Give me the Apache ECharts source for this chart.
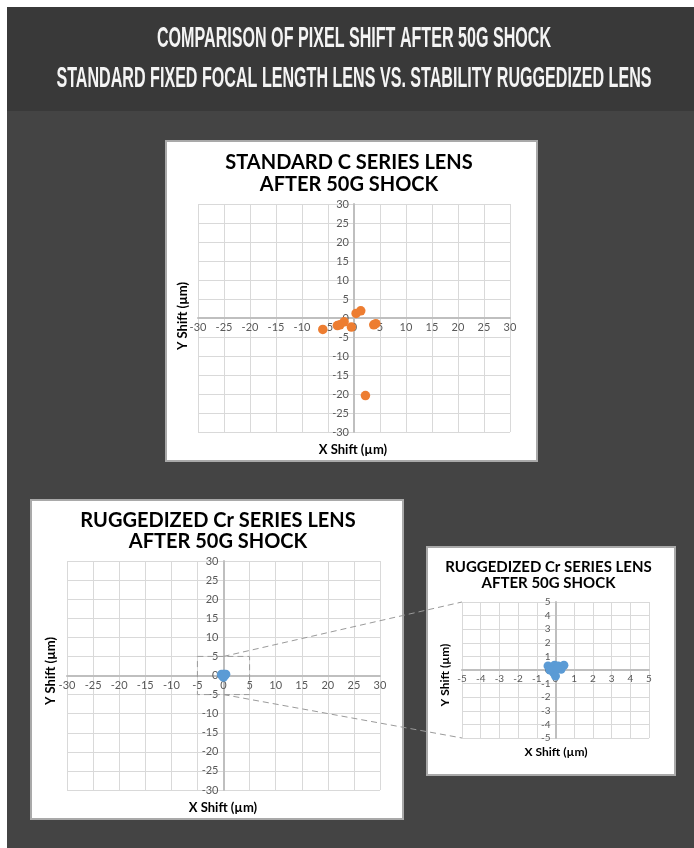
<!DOCTYPE html>
<html><head><meta charset="utf-8">
<script src="https://cdn.jsdelivr.net/npm/echarts@6/dist/echarts.min.js"></script>
<style>html,body{margin:0;padding:0;background:#fff}#chart{width:694px;height:848px}</style>
</head><body><div id="chart"></div>
<script>
// Pixel shift (µm) measured after a 50G shock
const standardShift = [[-6, -3], [-3.2, -2], [-2.7, -1.8], [-1.9, -1], [-0.5, -2.4], [0.4, 1.2], [1.3, 1.9], [3.8, -1.8], [4.2, -1.5], [2.2, -20.4]];
const ruggedShift = [[-0.4, 0.3], [-0.25, 0.15], [-0.05, 0.35], [0.15, 0.3], [0.45, 0.35], [0.3, 0.05], [-0.1, -0.2], [0, -0.45], [-0.3, 0], [0.1, 0.1]];

// Axis ranges
const fullRange = [-30, 30];
const fullStep = 5;
const zoomRange = [-5, 5];
const zoomStep = 1;

// Text
const headerLines = ['COMPARISON OF PIXEL SHIFT AFTER 50G SHOCK', 'STANDARD FIXED FOCAL LENGTH LENS VS. STABILITY RUGGEDIZED LENS'];
const standardTitle = ['STANDARD C SERIES LENS', 'AFTER 50G SHOCK'];
const ruggedTitle = ['RUGGEDIZED Cr SERIES LENS', 'AFTER 50G SHOCK'];
const xName = 'X Shift (µm)';
const yName = 'Y Shift (µm)';

const ORANGE = '#ED7D31';
const BLUE = '#5B9BD5';
const FONT = 'Lato, "Open Sans", sans-serif';
const HEADER_FONT = '"Liberation Sans Narrow", "Liberation Sans", sans-serif';

// Panel layout: white card, plot area, title and axis-name placement
const panels = [
  { box: [166, 141, 371, 320], grid: { left: 198, top: 204, width: 312, height: 228 },
    title: standardTitle, titleX: 349, titleY: [163, 185], titleSize: 20,
    xNameAt: [353, 449.5], yNameAt: [183, 316], nameSize: 13, labelSize: 11,
    range: fullRange, step: fullStep },
  { box: [31, 500, 372, 319], grid: { left: 67, top: 561, width: 313, height: 229 },
    title: ruggedTitle, titleX: 218, titleY: [520.5, 541.5], titleSize: 20,
    xNameAt: [223, 808], yNameAt: [51, 671], nameSize: 13, labelSize: 11,
    range: fullRange, step: fullStep },
  { box: [427, 547, 248, 228], grid: { left: 462, top: 602, width: 187, height: 136 },
    title: ruggedTitle, titleX: 548.5, titleY: [567, 583], titleSize: 15,
    xNameAt: [556, 752], yNameAt: [445, 675], nameSize: 12, labelSize: 10,
    range: zoomRange, step: zoomStep }
];

// Axes cross at the origin: shift each axis inward from its grid edge to the zero position
function makeAxis(p, i, isX) {
  const span = isX ? p.grid.height : p.grid.width;
  const zeroFrac = (0 - p.range[0]) / (p.range[1] - p.range[0]);
  return {
    type: 'value', gridIndex: i, min: p.range[0], max: p.range[1], interval: p.step,
    position: isX ? 'bottom' : 'left',
    offset: -span * zeroFrac,
    axisLine: { show: true, onZero: false, lineStyle: { color: '#bfbfbf', width: 2 } },
    axisTick: { show: false },
    splitLine: { show: true, lineStyle: { color: '#d9d9d9', width: 1 } },
    axisLabel: { color: '#595959', fontSize: p.labelSize, fontFamily: FONT,
      margin: isX ? 4 : 5, showMinLabel: true, showMaxLabel: true, hideOverlap: false }
  };
}

function textEl(text, x, y, size, weight, fill, family, extra) {
  return Object.assign({
    type: 'text', x: x, y: y, z: 50,
    style: { text: text, fill: fill, fontSize: size, fontWeight: weight, fontFamily: family,
      align: 'center', verticalAlign: 'middle', textAlign: 'center', textVerticalAlign: 'middle' }
  }, extra || {});
}

// Horizontal squeeze so the header face reads as a condensed type
const HEADER_SIZE = 30;
const HEADER_WEIGHT = 600;
const ctx = document.createElement('canvas').getContext('2d');
ctx.font = HEADER_WEIGHT + ' ' + HEADER_SIZE + 'px ' + HEADER_FONT;
const headerScale = 595 / ctx.measureText(headerLines[1]).width;

const graphics = [
  { type: 'rect', z: -10, shape: { x: 7, y: 7, width: 687, height: 104 }, style: { fill: '#393939' } },
  { type: 'rect', z: -10, shape: { x: 7, y: 111, width: 687, height: 737 }, style: { fill: '#444444' } },
  textEl(headerLines[0], 354, 38.5, HEADER_SIZE, HEADER_WEIGHT, '#f4f4f4', HEADER_FONT, { scaleX: headerScale }),
  textEl(headerLines[1], 354, 78.5, HEADER_SIZE, HEADER_WEIGHT, '#f4f4f4', HEADER_FONT, { scaleX: headerScale })
];

panels.forEach(function (p) {
  graphics.push({ type: 'rect', z: -5,
    shape: { x: p.box[0], y: p.box[1], width: p.box[2], height: p.box[3] },
    style: { fill: '#ffffff', stroke: '#a9a9a9', lineWidth: 2 } });
  graphics.push(textEl(p.title[0], p.titleX, p.titleY[0], p.titleSize, 'bold', '#000', FONT));
  graphics.push(textEl(p.title[1], p.titleX, p.titleY[1], p.titleSize, 'bold', '#000', FONT));
  graphics.push(textEl(xName, p.xNameAt[0], p.xNameAt[1], p.nameSize, 'bold', '#000', FONT));
  graphics.push(textEl(yName, p.yNameAt[0], p.yNameAt[1], p.nameSize, 'bold', '#000', FONT, { rotation: Math.PI / 2 }));
});

const chart = echarts.init(document.getElementById('chart'), null, { renderer: 'canvas' });
chart.setOption({
  backgroundColor: 'transparent',
  animation: false,
  grid: panels.map(function (p) { return Object.assign({ containLabel: false }, p.grid); }),
  xAxis: panels.map(function (p, i) { return makeAxis(p, i, true); }),
  yAxis: panels.map(function (p, i) { return makeAxis(p, i, false); }),
  series: [
    { type: 'scatter', xAxisIndex: 0, yAxisIndex: 0, data: standardShift, symbolSize: 9.5, itemStyle: { color: ORANGE, opacity: 1 } },
    { type: 'scatter', xAxisIndex: 1, yAxisIndex: 1, data: ruggedShift, symbolSize: 9, itemStyle: { color: BLUE, opacity: 1 } },
    { type: 'scatter', xAxisIndex: 2, yAxisIndex: 2, data: ruggedShift, symbolSize: 9, itemStyle: { color: BLUE, opacity: 1 } }
  ],
  graphic: { elements: graphics }
});

// Zoom call-out: dashed box around ±5 µm on the full-scale plot, linked to the zoomed plot
const big = { gridIndex: 1 };
const small = { gridIndex: 2 };
const tl = chart.convertToPixel(big, [zoomRange[0], zoomRange[1]]);
const br = chart.convertToPixel(big, [zoomRange[1], zoomRange[0]]);
const fromTop = chart.convertToPixel(big, [0, zoomRange[1]]);
const fromBottom = chart.convertToPixel(big, [0, zoomRange[0]]);
const toTop = chart.convertToPixel(small, [zoomRange[0], zoomRange[1]]);
const toBottom = chart.convertToPixel(small, [zoomRange[0], zoomRange[0]]);
const dash = { stroke: '#9a9a9a', lineWidth: 1, lineDash: [6, 4], fill: null };
chart.setOption({
  graphic: { elements: graphics.concat([
    { type: 'rect', z: 60, shape: { x: tl[0], y: tl[1], width: br[0] - tl[0], height: br[1] - tl[1] }, style: dash },
    { type: 'line', z: 60, shape: { x1: fromTop[0], y1: fromTop[1], x2: toTop[0], y2: toTop[1] }, style: dash },
    { type: 'line', z: 60, shape: { x1: fromBottom[0], y1: fromBottom[1], x2: toBottom[0], y2: toBottom[1] }, style: dash }
  ]) }
}, { replaceMerge: ['graphic'] });
</script>
</body></html>
